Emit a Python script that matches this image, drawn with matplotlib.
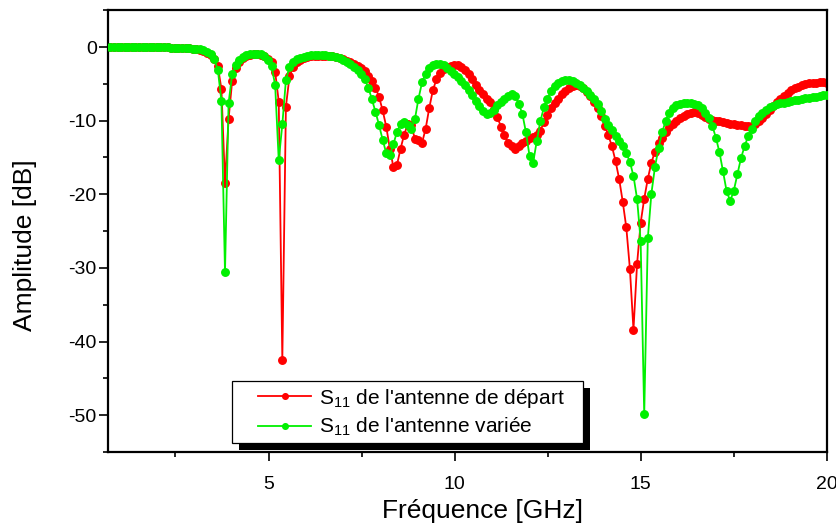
import numpy as np
import matplotlib
matplotlib.use("Agg")
import matplotlib.pyplot as plt
from matplotlib.legend_handler import HandlerLine2D
from matplotlib.patches import Rectangle
from matplotlib.transforms import IdentityTransform
from matplotlib.ticker import MultipleLocator

plt.rcParams['font.family'] = ['Liberation Sans', 'DejaVu Sans']
plt.rcParams['mathtext.fontset'] = 'custom'
plt.rcParams['mathtext.rm'] = 'Liberation Sans'
plt.rcParams['mathtext.it'] = 'Liberation Sans:italic'
plt.rcParams['axes.unicode_minus'] = False

# Frequency sweep (GHz): 201 points from 0.75 to 20 GHz
freq = np.linspace(0.75, 20.0, 201)

s11_depart = [
    0.0, 0.0, 0.0, 0.0, 0.0, 0.0, 0.0, 0.0, 0.0, 0.0,
    -0.02, -0.02, -0.03, -0.03, -0.04, -0.05, -0.06, -0.07, -0.08, -0.1,
    -0.12, -0.15, -0.18, -0.22, -0.28, -0.35, -0.5, -0.75, -1.05, -1.6,
    -2.6, -5.7, -18.4, -9.8, -4.6, -2.8, -2.0, -1.5, -1.2, -1.05,
    -0.95, -0.95, -1.05, -1.25, -1.6, -2.0, -3.4, -7.4, -42.5, -8.1,
    -4.0, -2.7, -2.1, -1.75, -1.5, -1.35, -1.25, -1.2, -1.15, -1.15,
    -1.15, -1.2, -1.25, -1.35, -1.5, -1.65, -1.85, -2.05, -2.3, -2.6,
    -2.9, -3.3, -3.9, -4.6, -5.5, -6.8, -8.6, -10.8, -13.8, -16.3,
    -16.0, -13.8, -11.9, -10.5, -10.6, -12.5, -12.6, -13.0, -11.1, -8.3,
    -5.9, -4.4, -3.5, -3.0, -2.7, -2.55, -2.45, -2.5, -2.7, -3.1,
    -3.7, -4.4, -5.1, -5.8, -6.4, -7.0, -7.5, -8.4, -9.5, -10.8,
    -12.0, -13.0, -13.5, -13.8, -13.5, -13.1, -12.7, -12.4, -12.2, -12.0,
    -11.4, -10.2, -9.2, -8.3, -7.6, -7.0, -6.4, -6.0, -5.6, -5.35,
    -5.2, -5.3, -5.6, -6.1, -6.7, -7.4, -8.3, -9.4, -10.7, -12.0,
    -13.5, -15.5, -17.9, -21.0, -24.5, -30.1, -38.4, -29.5, -23.9, -20.6,
    -17.9, -15.7, -14.2, -13.1, -12.3, -11.6, -10.9, -10.4, -10.0, -9.6,
    -9.3, -9.05, -8.9, -8.85, -8.95, -9.2, -9.5, -9.75, -9.9, -10.0,
    -10.1, -10.2, -10.3, -10.4, -10.5, -10.6, -10.65, -10.7, -10.75, -10.7,
    -10.5, -10.1, -9.6, -9.1, -8.5, -8.0, -7.5, -7.0, -6.6, -6.2,
    -5.9, -5.6, -5.4, -5.2, -5.05, -4.95, -4.9, -4.85, -4.8, -4.8,
    -4.85,
]

s11_variee = [
    0.0, 0.0, 0.0, 0.0, 0.0, 0.0, 0.0, 0.0, 0.0, 0.0,
    -0.02, -0.02, -0.03, -0.03, -0.04, -0.05, -0.06, -0.07, -0.08, -0.1,
    -0.12, -0.14, -0.17, -0.2, -0.25, -0.3, -0.42, -0.65, -1.0, -1.6,
    -3.1, -7.3, -30.6, -7.6, -3.7, -2.4, -1.8, -1.4, -1.1, -0.95,
    -0.9, -0.9, -1.0, -1.25, -1.75, -2.6, -5.2, -15.4, -10.5, -4.5,
    -2.7, -2.0, -1.65, -1.45, -1.3, -1.2, -1.1, -1.05, -1.05, -1.05,
    -1.1, -1.15, -1.25, -1.4, -1.55, -1.75, -2.0, -2.3, -2.7, -3.1,
    -3.6, -4.4, -5.5, -7.1, -8.8, -10.6, -12.6, -14.4, -14.7, -13.2,
    -11.5, -10.5, -10.2, -10.6, -11.2, -9.8, -7.0, -4.8, -3.6, -2.9,
    -2.5, -2.35, -2.35, -2.5, -2.8, -3.2, -3.6, -4.1, -4.6, -5.1,
    -5.8, -6.5, -7.3, -8.0, -8.7, -9.1, -9.0, -8.5, -7.9, -7.4,
    -7.0, -6.6, -6.4, -6.6, -7.7, -9.1, -11.6, -14.8, -15.7, -12.8,
    -10.1, -8.2, -7.0, -6.0, -5.3, -4.9, -4.6, -4.45, -4.5, -4.65,
    -4.9, -5.2, -5.6, -6.0, -6.5, -7.0, -7.7, -8.7, -9.8, -10.6,
    -11.3, -12.1, -12.8, -13.5, -14.4, -15.6, -17.5, -20.6, -26.3, -49.9,
    -26.0, -19.9, -16.3, -13.7, -11.6, -10.0, -8.9, -8.3, -7.9, -7.7,
    -7.6, -7.55, -7.6, -7.7, -7.9, -8.3, -8.9, -9.6, -10.7, -12.3,
    -14.3, -16.9, -19.6, -20.9, -19.5, -17.3, -15.1, -13.5, -12.1, -11.1,
    -10.0, -9.4, -8.9, -8.5, -8.2, -8.0, -7.8, -7.65, -7.55, -7.45,
    -7.35, -7.25, -7.15, -7.05, -6.95, -6.9, -6.8, -6.75, -6.65, -6.55,
    -6.5,
]

labels = ["S$_{\\mathrm{11}}$ de l'antenne de départ",
          "S$_{\\mathrm{11}}$ de l'antenne variée"]
colors = ['#ff0000', '#00f000']
xticks = [5, 10, 15, 20]
yticks = [0, -10, -20, -30, -40, -50]

fig = plt.figure(figsize=(8.37, 5.24), dpi=100)
ax = fig.add_axes([0.1296, 0.1374, 0.8584, 0.8431])

ax.plot(freq, s11_depart, '-o', color=colors[0], lw=1.3, ms=5.4,
        mec=colors[0], label=labels[0], zorder=2)
ax.plot(freq, s11_variee, '-o', color=colors[1], lw=1.3, ms=5.4,
        mec=colors[1], label=labels[1], zorder=3)

ax.set_xlim(0.7, 20.0)
ax.set_ylim(-55, 5)
ax.set_xticks(xticks)
ax.set_yticks(yticks)
ax.xaxis.set_minor_locator(MultipleLocator(2.5))
ax.yaxis.set_minor_locator(MultipleLocator(5))
ax.tick_params(which='major', direction='out', length=6.5, width=1.2,
               labelsize=14, pad=2)
ax.tick_params(axis='x', which='major', pad=11)
ax.tick_params(which='minor', direction='out', length=3.6, width=1.2)
for s in ax.spines.values():
    s.set_linewidth(1.6)

ax.set_xlabel('Fréquence [GHz]', fontsize=19)
ax.set_ylabel('Amplitude [dB]', fontsize=19)
ax.xaxis.label.set_va('center')
ax.yaxis.label.set_va('center')
ax.xaxis.set_label_coords(0.52, -0.133)
ax.yaxis.set_label_coords(-0.116, 0.4685)

leg = ax.legend(loc='upper left', bbox_to_anchor=(0.1723, 0.1598, 0.4875, 0.0),
                mode='expand', borderaxespad=0, fontsize=15, frameon=True,
                fancybox=False, framealpha=1, edgecolor='black',
                borderpad=0.25, labelspacing=0.3, handlelength=3.55,
                handletextpad=0.35, markerscale=0.75,
                handler_map={plt.Line2D: HandlerLine2D(numpoints=1, xpad=1.0)})
leg.get_frame().set_linewidth(0.9)
leg.set_zorder(5)

fig.canvas.draw()
bb = leg.get_frame().get_window_extent()
shadow = Rectangle((bb.x0 + 7, bb.y0 - 7), bb.width, bb.height,
                   transform=IdentityTransform(), facecolor='black',
                   edgecolor='none', zorder=4.9, clip_on=False)
ax.add_artist(shadow)

fig.savefig('out.png', dpi=100)
